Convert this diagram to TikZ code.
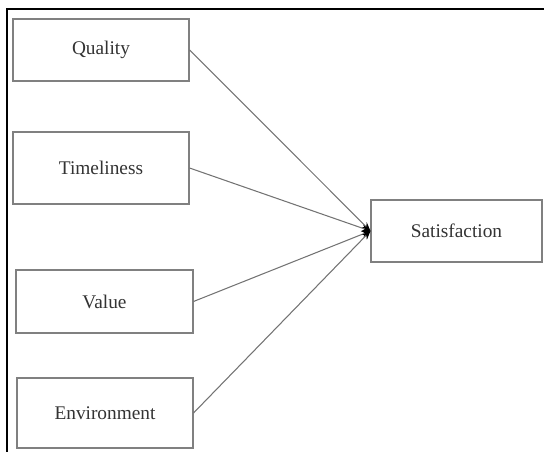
\documentclass[tikz,border=0pt]{standalone}
\usepackage{fontspec}
\setmainfont{Liberation Serif}
\usetikzlibrary{arrows.meta}

\begin{document}
\begin{tikzpicture}[
    factor/.style={draw=black!50, line width=0.6pt, fill=white, minimum width=3.52cm,
        text=black!80, font=\fontsize{11}{13}\selectfont, inner sep=0pt},
    link/.style={draw=black!55, line width=0.6pt, -{Stealth[length=5pt,width=4pt,black]}}
    ]
    \useasboundingbox (0,0) rectangle (10.88,9.04);
    \draw[line width=1.4pt] (0.14,0) -- (0.14,8.86) -- (10.88,8.86);
    \node[factor, minimum height=1.24cm] (quality) at (2.02,8.04) {Quality};
    \node[factor, minimum height=1.44cm] (timeliness) at (2.02,5.68) {Timeliness};
    \node[factor, minimum width=3.54cm, minimum height=1.26cm] (value) at (2.09,3.01) {Value};
    \node[factor, minimum height=1.40cm] (environment) at (2.10,0.78) {Environment};
    \node[factor, minimum width=3.42cm, minimum height=1.24cm] (satisfaction) at (9.13,4.42) {Satisfaction};
    \draw[link] (quality.east) -- (satisfaction.west);
    \draw[link] (timeliness.east) -- (satisfaction.west);
    \draw[link] (value.east) -- (satisfaction.west);
    \draw[link] (environment.east) -- (satisfaction.west);
\end{tikzpicture}
\end{document}
